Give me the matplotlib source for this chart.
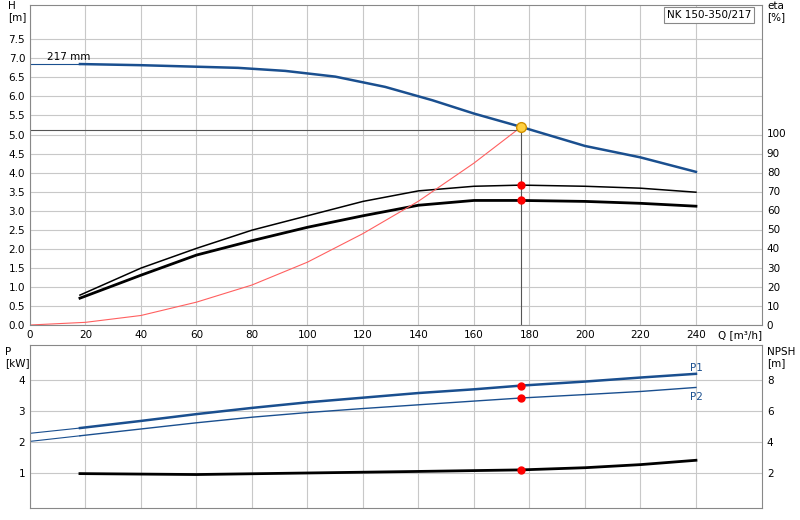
import matplotlib
matplotlib.use("Agg")
import matplotlib.pyplot as plt

q = [18, 40, 60, 75, 92, 110, 128, 145, 160, 177, 200, 220, 240]
h = [6.85, 6.82, 6.78, 6.75, 6.67, 6.52, 6.25, 5.9, 5.55, 5.2, 4.7, 4.4, 4.02]
qe = [18, 40, 60, 80, 100, 120, 140, 160, 177, 200, 220, 240]
eta_thin = [15.6, 29.7, 40, 49.5, 57, 64.5, 70, 72.4, 73, 72.4, 71.4, 69.3]
eta_thick = [14, 26, 36.5, 44, 51, 57, 62.5, 65, 65, 64.5, 63.5, 62]
qs = [0, 20, 40, 60, 80, 100, 120, 140, 160, 177]
hs = [0, 0.07, 0.25, 0.6, 1.05, 1.65, 2.4, 3.25, 4.25, 5.2]
qp = [18, 40, 60, 80, 100, 120, 140, 160, 177, 200, 220, 240]
p1 = [2.45, 2.68, 2.9, 3.1, 3.28, 3.43, 3.58, 3.7, 3.82, 3.95, 4.08, 4.2]
p2 = [2.2, 2.42, 2.62, 2.8, 2.95, 3.08, 3.2, 3.32, 3.42, 3.53, 3.63, 3.76]
qn = [18, 60, 100, 140, 177, 200, 220, 240]
npsh = [1.96, 1.9, 2.0, 2.1, 2.2, 2.34, 2.54, 2.82]
op_q, op_h, op_eta1, op_eta2 = 177, 5.2, 73, 65

W, H = 800, 520
fig = plt.figure(figsize=(8, 5.2), dpi=100)
ax = fig.add_axes([30/W, 1-325/H, 732/W, 320/H])
bx = fig.add_axes([30/W, 1-508/H, 732/W, 163/H])
blue = "#1a4f8f"
EK = 5.03/100  # eta -> H

for a in (ax, bx):
    a.set_xlim(0, 263.8)
    a.set_xticks(range(0, 241, 20))
    a.grid(True, color="#c8c8c8", lw=0.8)
    a.tick_params(labelsize=7.5, length=0)
    for s in a.spines.values():
        s.set_color("#888888")
ax.set_ylim(0, 8.4)
ax.set_yticks([i*0.5 for i in range(16)])
ax.set_yticklabels([f"{i*0.5:.1f}" for i in range(16)])
ax.set_xticklabels([str(v) for v in range(0, 241, 20)])

ax.plot([0, q[0]], [h[0], h[0]], color=blue, lw=0.8)
ax.plot(q, h, color=blue, lw=1.8)
ax.plot(qe, [e*EK for e in eta_thin], color="black", lw=1.1)
ax.plot(qe, [e*EK for e in eta_thick], color="black", lw=2.0)
ax.plot(qs, hs, color="#ff6060", lw=0.8)
ax.plot([0, op_q], [5.13, 5.13], color="#555555", lw=0.8)
ax.plot([op_q, op_q], [0, op_h], color="#555555", lw=0.8)
ax.plot([op_q], [op_h], "o", ms=7, mfc="#ffd040", mec="#d09000")
ax.plot([op_q, op_q], [op_eta1*EK, op_eta2*EK], "o", ms=5, color="red", ls="none")
ax.text(6, 6.95, "217 mm", fontsize=7.5)
fig.text(718/W, 1-335/H, "Q [m³/h]", fontsize=7.5, va="center")
fig.text(8/W, 1-1/H, "H\n[m]", fontsize=7.5, va="top", linespacing=1.1)
fig.text(767/W, 1-1/H, "eta\n[%]", fontsize=7.5, va="top", linespacing=1.1)
ax.text(0.985, 0.985, "NK 150-350/217", transform=ax.transAxes, ha="right", va="top",
        fontsize=7.5, bbox=dict(fc="white", ec="#888888", lw=0.8, pad=2))
ax2 = ax.twinx()
ax2.set_ylim(0, 8.4/EK)
ax2.set_yticks(range(0, 101, 10))
ax2.tick_params(labelsize=7.5, length=0)
for s in ax2.spines.values():
    s.set_visible(False)

bx.set_ylim(-0.13, 5.13)
bx.set_yticks([1, 2, 3, 4])
bx.set_xticklabels([])
bx.plot([0, qp[0]], [2.28, p1[0]], color=blue, lw=0.8)
bx.plot(qp, p1, color=blue, lw=1.8)
bx.plot([0, qp[0]], [2.02, p2[0]], color=blue, lw=0.8)
bx.plot(qp, p2, color=blue, lw=1.0)
bx.plot(qn, [v/2 for v in npsh], color="black", lw=2.0)
bx.plot([op_q]*3, [3.82, 3.42, 1.1], "o", ms=5, color="red", ls="none")
bx.text(238, 4.3, "P1", fontsize=7.5, color=blue)
bx.text(238, 3.35, "P2", fontsize=7.5, color=blue)
fig.text(5/W, 1-347/H, "P\n[kW]", fontsize=7.5, va="top", linespacing=1.1)
fig.text(767/W, 1-347/H, "NPSH\n[m]", fontsize=7.5, va="top", linespacing=1.1)
bx2 = bx.twinx()
bx2.set_ylim(-0.26, 10.26)
bx2.set_yticks([2, 4, 6, 8])
bx2.tick_params(labelsize=7.5, length=0)
for s in bx2.spines.values():
    s.set_visible(False)

fig.savefig("out.png", dpi=100)
